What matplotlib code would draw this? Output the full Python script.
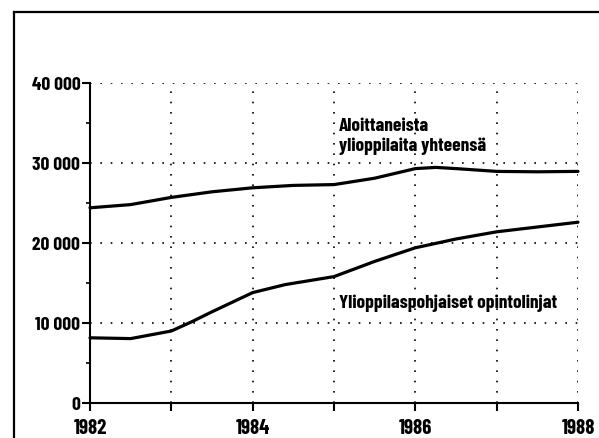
import matplotlib
matplotlib.use("Agg")
import matplotlib.pyplot as plt
from matplotlib.lines import Line2D
from matplotlib.ticker import FixedLocator
from matplotlib import font_manager as fm
import os

# condensed bold font (Barlow Condensed Bold if present)
COND_FILE = None
for f in fm.fontManager.ttflist:
    if os.path.basename(f.fname) == "BarlowCondensed-Bold.ttf":
        COND_FILE = f.fname
        break

# Data
years_total = [1982.0, 1982.5, 1983.0, 1983.5, 1984.0, 1984.5, 1985.0, 1985.5,
               1986.0, 1986.25, 1986.5, 1987.0, 1987.5, 1988.0]
total = [24400, 24800, 25700, 26400, 26900, 27200, 27300, 28100,
         29300, 29450, 29300, 28950, 28900, 28950]

years_lines = [1982.0, 1982.5, 1983.0, 1983.25, 1983.5, 1984.0, 1984.4, 1985.0,
               1985.5, 1986.0, 1986.5, 1987.0, 1987.5, 1988.0]
lines_based = [8150, 8050, 9000, 10150, 11400, 13800, 14800, 15800,
               17700, 19400, 20500, 21400, 22000, 22600]

xticks = [1982, 1983, 1984, 1985, 1986, 1987, 1988]
xlabels = ["1982", "", "1984", "", "1986", "", "1988"]
yticks = [0, 10000, 20000, 30000, 40000]
ylabels = ["0", "10 000", "20 000", "30 000", "40 000"]

label_total = "Aloittaneista\nylioppilaita yhteensä"
label_lines = "Ylioppilaspohjaiset opintolinjat"

W, H = 599, 439
fig = plt.figure(figsize=(W / 100, H / 100), dpi=100)
fig.patch.set_facecolor("white")

fig.add_artist(Line2D([14 / W, 14 / W], [0, 1 - 13 / H], transform=fig.transFigure,
                      color="black", lw=1.6))
fig.add_artist(Line2D([14 / W, 1], [1 - 13 / H, 1 - 13 / H], transform=fig.transFigure,
                      color="black", lw=1.6))

left, right = 90 / W, 578 / W
bottom, top = 1 - 404 / H, 1 - 84 / H
ax = fig.add_axes([left, bottom, right - left, top - bottom])

ax.set_xlim(1982, 1988)
ax.set_ylim(0, 40000)

for s in ["top", "right"]:
    ax.spines[s].set_visible(False)
for s in ["left", "bottom"]:
    ax.spines[s].set_linewidth(1.5)
    ax.spines[s].set_color("black")

dot = (0, (1, 5.2))
for y in yticks[1:]:
    ax.axhline(y, color="black", lw=1.2, linestyle=dot, zorder=1)
for x in xticks[1:]:
    ax.axvline(x, color="black", lw=1.2, linestyle=dot, zorder=1)

ax.plot(years_total, total, color="black", lw=2.3, clip_on=False, zorder=3,
        solid_capstyle="round", solid_joinstyle="round")
ax.plot(years_lines, lines_based, color="black", lw=2.3, clip_on=False, zorder=3,
        solid_capstyle="round", solid_joinstyle="round")


def style(t, size):
    if COND_FILE is not None:
        t.set_fontproperties(fm.FontProperties(fname=COND_FILE, size=size))
    else:
        t.set_family(["Barlow Condensed", "DejaVu Sans"])
        t.set_fontweight("bold")
        t.set_fontsize(size)


ax.set_xticks(xticks)
ax.set_xticklabels(xlabels)
ax.set_yticks(yticks)
ax.set_yticklabels(ylabels)
ax.yaxis.set_minor_locator(FixedLocator([5000, 15000, 25000, 35000]))
ax.tick_params(axis="both", which="major", direction="out", length=6, width=1.5,
               color="black")
ax.tick_params(axis="x", which="major", pad=5)
ax.tick_params(axis="y", which="major", pad=1)
ax.tick_params(axis="y", which="minor", direction="out", length=3, width=1.2)
for lab in ax.get_xticklabels():
    style(lab, 15)
for lab in ax.get_yticklabels():
    style(lab, 14)

t1 = ax.text(1985.06, 31580, label_total, ha="left", va="baseline", linespacing=1.2)
style(t1, 14)
t2 = ax.text(1985.06, 12030, label_lines, ha="left", va="baseline")
style(t2, 14)

fig.savefig("out.png", dpi=100, facecolor="white")
